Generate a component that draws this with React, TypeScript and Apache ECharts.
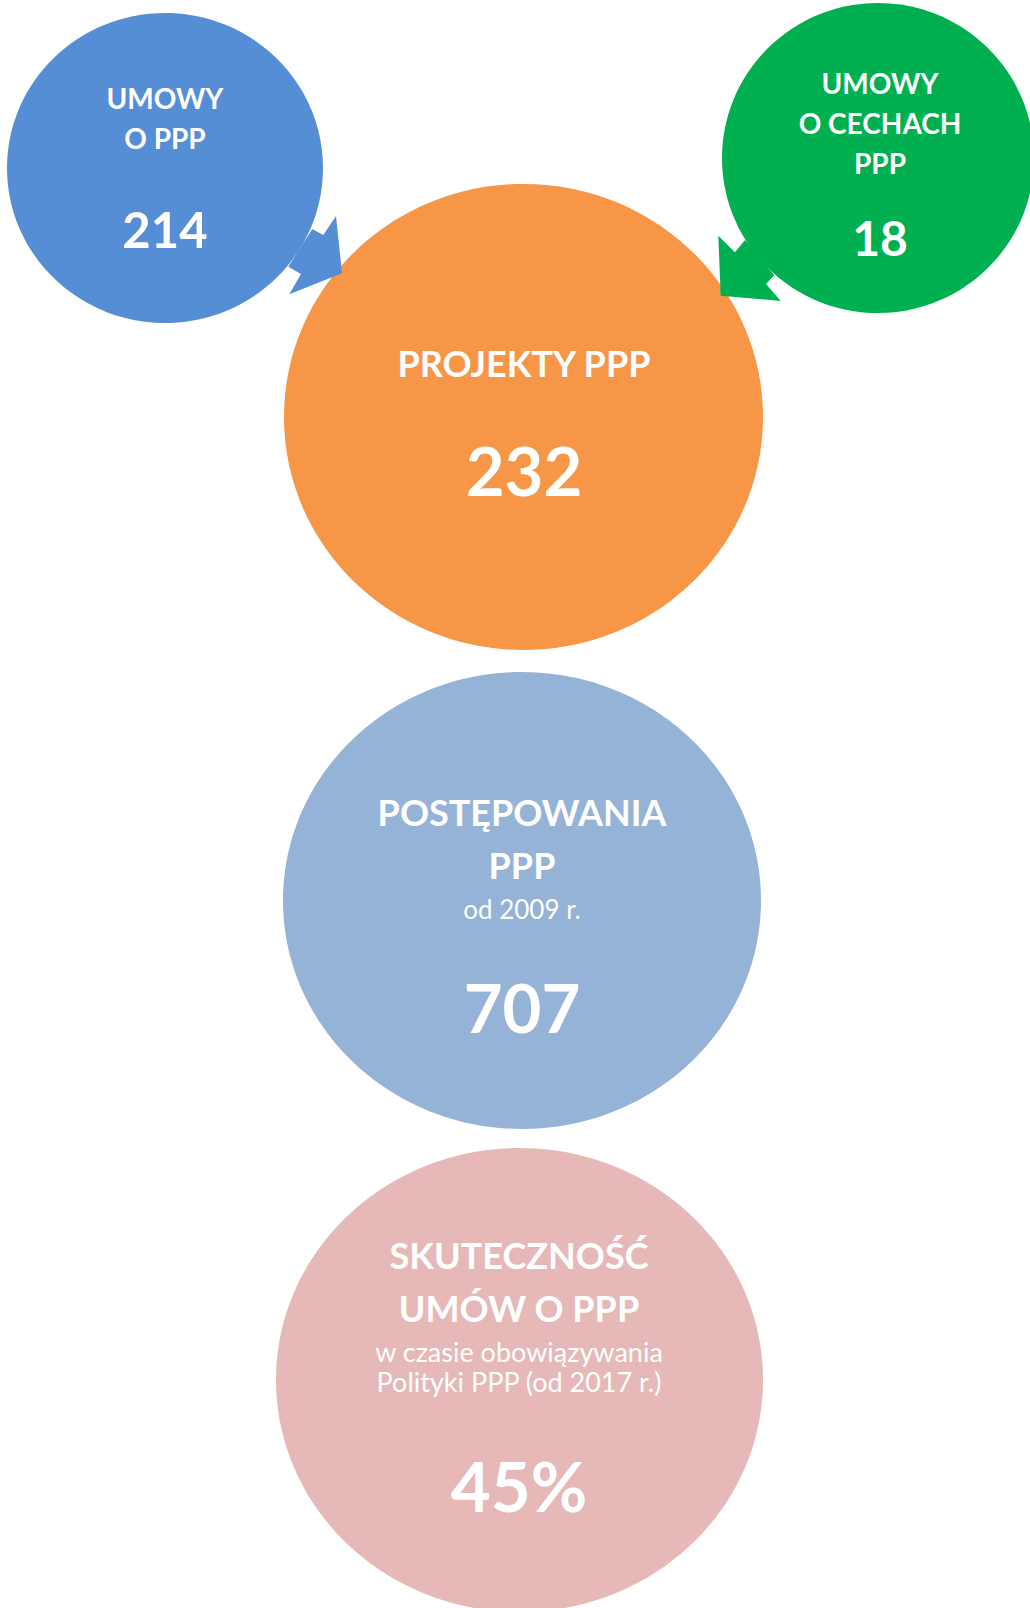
import React, { useEffect, useRef } from "react";
import * as echarts from "echarts";

// ---- data ----
const titles: string[][] = [
  ["UMOWY", "O PPP"],
  ["UMOWY", "O CECHACH", "PPP"],
  ["PROJEKTY PPP"],
  ["POSTĘPOWANIA", "PPP"],
  ["SKUTECZNOŚĆ", "UMÓW O PPP"],
];
const subtitles: string[][] = [
  [],
  [],
  [],
  ["od 2009 r."],
  ["w czasie obowiązywania", "Polityki PPP (od 2017 r.)"],
];
const values: string[] = ["214", "18", "232", "707", "45%"];

// ---- layout / style ----
const FONT = "Lato, 'Open Sans', sans-serif";
const colors = ["#558ED5", "#00B050", "#F79646", "#95B3D7", "#E6B9B8"];
const shapes = [
  { cx: 165, cy: 168, rx: 158, ry: 155 },
  { cx: 878, cy: 158, rx: 156, ry: 155 },
  { cx: 523.5, cy: 417, rx: 239.5, ry: 233 },
  { cx: 522, cy: 900.5, rx: 239, ry: 228.5 },
  { cx: 519.5, cy: 1380, rx: 243.5, ry: 232 },
];
const titleY = [[98, 138], [83, 123, 163], [363], [812, 865], [1254.5, 1308]];
const titleSize = [28, 28, 36, 36, 36];
const subY = [[], [], [], [908.5], [1351, 1381]];
const subSize = [0, 0, 0, 26, 27];
const valueY = [229, 237, 470, 1007, 1485];
const valueSize = [49, 48, 67, 67, 69];
const textX = [165, 880, 524, 522, 519];
const arrows: number[][][] = [
  [[312.3, 229], [323.3, 235], [336, 216], [342, 273.3], [289.3, 294.3], [301, 274], [288.3, 266.7]],
  [[745, 240], [735, 252.3], [718.3, 235.7], [720.7, 295.7], [780.7, 301], [766, 284], [774.3, 275.3]],
];
// draw order: orange first so arrows overlap it
const order = [2, 0, 1, 3, 4];

export default function App() {
  const ref = useRef<HTMLDivElement>(null);
  useEffect(() => {
    if (!ref.current) return;
    const chart = echarts.init(ref.current, undefined, { renderer: "svg" });
    const elements: any[] = [];
    order.forEach((i) => {
      const s = shapes[i];
      elements.push({
        type: "ellipse",
        shape: { cx: s.cx, cy: s.cy, rx: s.rx, ry: s.ry },
        style: { fill: colors[i] },
      });
      if (i < arrows.length) {
        elements.push({
          type: "polygon",
          shape: { points: arrows[i] },
          style: { fill: colors[i] },
        });
      }
    });
    titles.forEach((lines, i) => {
      lines.forEach((t, j) => {
        elements.push({
          type: "text",
          style: {
            text: t,
            x: textX[i],
            y: titleY[i][j],
            fill: "#ffffff",
            font: `bold ${titleSize[i]}px ${FONT}`,
            textAlign: "center",
            textVerticalAlign: "middle",
          },
        });
      });
      subtitles[i].forEach((t, j) => {
        elements.push({
          type: "text",
          style: {
            text: t,
            x: textX[i],
            y: subY[i][j],
            fill: "#ffffff",
            font: `normal ${subSize[i]}px ${FONT}`,
            textAlign: "center",
            textVerticalAlign: "middle",
          },
        });
      });
      elements.push({
        type: "text",
        style: {
          text: values[i],
          x: textX[i],
          y: valueY[i],
          fill: "#ffffff",
          font: `bold ${valueSize[i]}px ${FONT}`,
          textAlign: "center",
          textVerticalAlign: "middle",
        },
      });
    });
    chart.setOption({
      animation: false,
      backgroundColor: "#ffffff",
      graphic: { elements },
    });
    return () => chart.dispose();
  }, []);
  return (
    <div
      ref={ref}
      style={{ position: "absolute", left: 0, top: 0, width: 1030, height: 1608 }}
    />
  );
}
